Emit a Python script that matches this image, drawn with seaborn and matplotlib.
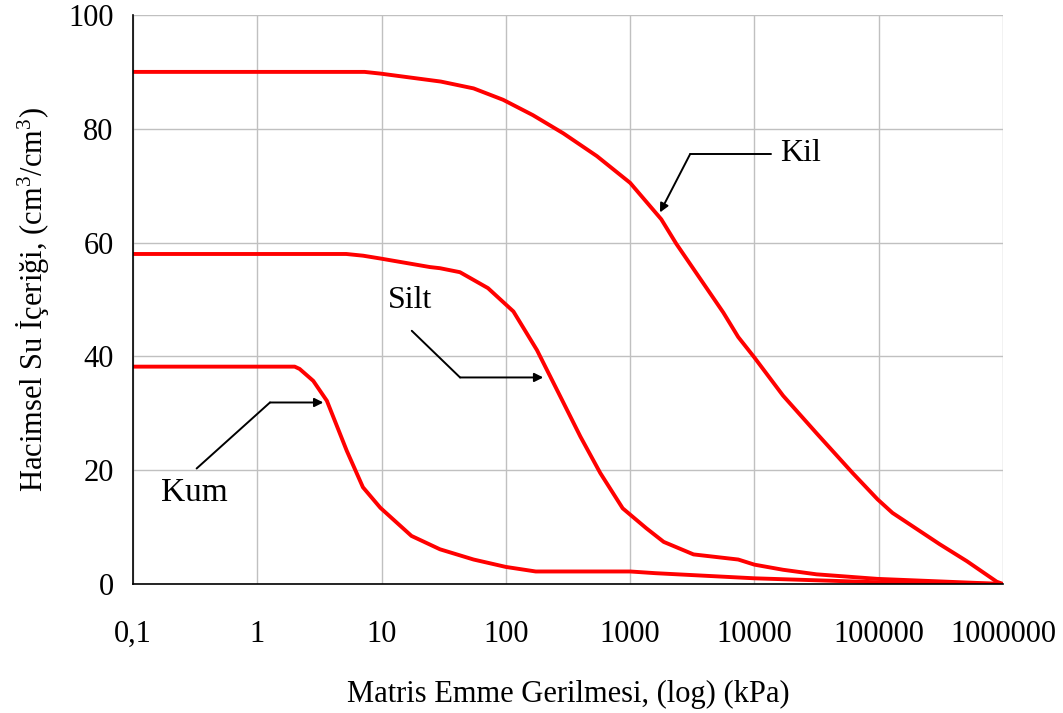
import numpy as np
import pandas as pd
import matplotlib
matplotlib.use("Agg")
import matplotlib.pyplot as plt
from matplotlib.ticker import FixedLocator, FixedFormatter, NullLocator
import seaborn as sns

# ---- data ----
kil_x = [0.1, 7.3, 9.8, 30, 55, 95, 165, 290, 540, 1000, 1780, 2350, 5620, 7410,
         10000, 17000, 31600, 61700, 97700, 129000, 309000, 513000, 891000, 1000000]
kil_y = [90, 90, 89.7, 88.3, 87.1, 85.1, 82.4, 79.2, 75.2, 70.5, 64.1, 59.8, 47.7, 43.4,
         39.8, 33.1, 26.5, 19.5, 14.9, 12.5, 7.0, 4.0, 0.4, 0]

silt_x = [0.1, 5.2, 7.1, 9.8, 24.5, 29.5, 42.7, 71.8, 115, 178, 275, 398, 575, 871,
          1349, 1862, 3236, 7413, 10000, 17000, 31600, 97700, 1000000]
silt_y = [58, 58, 57.7, 57.2, 55.7, 55.5, 54.8, 52.0, 47.9, 41.1, 32.9, 25.9, 19.5, 13.3,
          9.8, 7.4, 5.2, 4.3, 3.4, 2.5, 1.7, 0.9, 0]

kum_x = [0.1, 2.0, 2.19, 2.82, 3.63, 5.25, 7.08, 9.77, 17.4, 29.5, 55, 100, 174,
         1000, 1600, 10000, 100000, 1000000]
kum_y = [38.2, 38.2, 37.8, 35.7, 32.2, 23.4, 17.0, 13.4, 8.45, 6.1, 4.3, 3.0, 2.2,
         2.2, 1.9, 1.0, 0.3, 0]

soils = ["Kil", "Silt", "Kum"]
x_ticks = [0.1, 1, 10, 100, 1000, 10000, 100000, 1000000]
x_tick_labels = ["0,1", "1", "10", "100", "1000", "10000", "100000", "1000000"]
y_ticks = [0, 20, 40, 60, 80, 100]

df = pd.concat([
    pd.DataFrame({"x": kil_x, "y": kil_y, "soil": "Kil"}),
    pd.DataFrame({"x": silt_x, "y": silt_y, "soil": "Silt"}),
    pd.DataFrame({"x": kum_x, "y": kum_y, "soil": "Kum"}),
], ignore_index=True)

sns.set_style("white")
plt.rcParams["font.family"] = ["Liberation Serif", "DejaVu Serif"]
plt.rcParams["mathtext.fontset"] = "custom"
plt.rcParams["mathtext.rm"] = "Liberation Serif"
plt.rcParams["mathtext.it"] = "Liberation Serif"
plt.rcParams["text.color"] = "black"
plt.rcParams["axes.labelcolor"] = "black"

fig = plt.figure(figsize=(10.63, 7.13), dpi=100)
ax = fig.add_axes([133 / 1063, 1 - 584 / 713, (1003 - 133) / 1063, (584 - 15) / 713])

sns.lineplot(data=df, x="x", y="y", hue="soil", units="soil", estimator=None,
             sort=False, palette={s: "#ff0000" for s in soils}, linewidth=2.8,
             legend=False, ax=ax)

ax.set_xscale("log")
ax.set_xlim(0.1, 1000000)
ax.set_ylim(0, 100)
ax.xaxis.set_major_locator(FixedLocator(x_ticks))
ax.xaxis.set_major_formatter(FixedFormatter(x_tick_labels))
ax.xaxis.set_minor_locator(NullLocator())
ax.set_yticks(y_ticks)

ax.grid(True, which="major", color="#c0c0c0", linewidth=1.0)
ax.set_axisbelow(True)
for s in ["top", "right"]:
    ax.spines[s].set_visible(False)
for s in ["left", "bottom"]:
    ax.spines[s].set_color("black")
    ax.spines[s].set_linewidth(1.2)

ax.tick_params(axis="both", which="major", direction="out", length=6, width=1,
               color="black", labelsize=22, labelcolor="black")
ax.tick_params(axis="x", pad=20)
ax.tick_params(axis="y", pad=8)

ax.set_xlabel("Matris Emme Gerilmesi, (log) (kPa)", fontsize=22, labelpad=22,
              color="black")
ax.set_ylabel("Hacimsel Su İçeriği, (cm$^3$/cm$^3$)", fontsize=22, labelpad=12,
              color="black")

# ---- annotations ----
arrow = dict(arrowstyle="-|>", color="black", lw=1.4, mutation_scale=13,
             shrinkA=0, shrinkB=0)
# Kil
ax.plot([3030, 13500], [75.5, 75.5], color="black", lw=1.4)
ax.annotate("", xy=(1738, 65.3), xytext=(3030, 75.5), arrowprops=arrow)
ax.text(16000, 75.6, "Kil", fontsize=23, ha="left", va="center")
# Silt
ax.plot([17.5, 42.8], [44.5, 36.3], color="black", lw=1.4)
ax.annotate("", xy=(200, 36.3), xytext=(42.8, 36.3), arrowprops=arrow)
ax.text(16.9, 49.9, "Silt", fontsize=23, ha="center", va="center")
# Kum
ax.plot([0.325, 1.265], [20.3, 31.9], color="black", lw=1.4)
ax.annotate("", xy=(3.4, 31.9), xytext=(1.265, 31.9), arrowprops=arrow)
ax.text(0.31, 16.0, "Kum", fontsize=24, ha="center", va="center")

fig.savefig("out.png", dpi=100)
